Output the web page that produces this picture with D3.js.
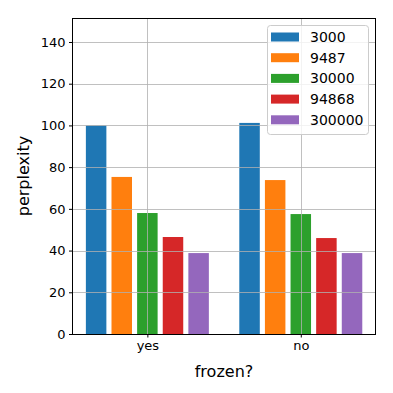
<!DOCTYPE html>
<html>
<head>
<meta charset="utf-8">
<script src="https://cdn.jsdelivr.net/npm/d3@7"></script>
<style>
  body { margin: 0; background: white; }
  text { font-family: "DejaVu Sans", sans-serif; }
</style>
</head>
<body>
<div id="chart"></div>
<script>
let w = 393;
let h = 393;

// data
let groups = ["yes", "no"];
let sizes = ["3000", "9487", "30000", "94868", "300000"];
let colors = ["#1f77b4", "#ff7f0e", "#2ca02c", "#d62728", "#9467bd"];
let yesValues = [100.0, 75.3, 58.0, 46.5, 38.8];
let noValues = [101.2, 73.8, 57.5, 46.0, 38.8];
let yTicks = [0, 20, 40, 60, 80, 100, 120, 140];

let pLeft = 72.5, pRight = 375.5, pTop = 18, pBottom = 334;

let svg = d3.select("#chart").append("svg")
  .attr("width", w)
  .attr("height", h);

// x: categories at 0 and 1
let xScale = d3.scaleLinear().domain([-0.488, 1.487]).range([pLeft, pRight]);
let yScale = d3.scaleLinear().domain([0, 151.5]).range([pBottom, pTop]);

let rows = [];
groups.forEach(function(g, gi){
  let vals = gi == 0 ? yesValues : noValues;
  sizes.forEach(function(s, si){
    rows.push({group: gi, series: si, value: vals[si]});
  });
});

let slot = 0.167;
let barW = 0.1336;

svg.selectAll(".bar").data(rows).enter()
  .append("rect")
  .attr("class", "bar")
  .attr("x", function(d){
    let c = d.group + slot * (d.series - 2) - barW / 2;
    return xScale(c);
  })
  .attr("width", function(d){ return xScale(barW) - xScale(0); })
  .attr("y", function(d){ return yScale(d.value); })
  .attr("height", function(d){ return pBottom - yScale(d.value); })
  .attr("fill", function(d){ return colors[d.series]; });

// grid (on top of bars, like matplotlib)
svg.selectAll(".hgrid").data(yTicks).enter()
  .append("line")
  .attr("x1", pLeft).attr("x2", pRight)
  .attr("y1", function(d){ return Math.round(yScale(d)) + 0.5; })
  .attr("y2", function(d){ return Math.round(yScale(d)) + 0.5; })
  .attr("stroke", "#b0b0b0").attr("stroke-width", 0.8);

svg.selectAll(".vgrid").data([0, 1]).enter()
  .append("line")
  .attr("y1", pTop).attr("y2", pBottom)
  .attr("x1", function(d){ return Math.round(xScale(d)) + 0.5; })
  .attr("x2", function(d){ return Math.round(xScale(d)) + 0.5; })
  .attr("stroke", "#b0b0b0").attr("stroke-width", 0.8);

// axes
let yAxis = d3.axisLeft(yScale).tickValues(yTicks).tickSize(3.5).tickPadding(3.5);
let gy = svg.append("g").attr("transform", "translate(" + pLeft + ",0)").call(yAxis);
gy.select(".domain").remove();
gy.selectAll("text").style("font-size", "13px").attr("fill", "black");

let xAxis = d3.axisBottom(xScale).tickValues([0, 1])
  .tickFormat(function(d){ return groups[d]; })
  .tickSize(3.5).tickPadding(3.5);
let gx = svg.append("g").attr("transform", "translate(0," + pBottom + ")").call(xAxis);
gx.select(".domain").remove();
gx.selectAll("text").style("font-size", "13px").attr("fill", "black");

svg.append("rect")
  .attr("x", pLeft).attr("y", pTop + 0.5)
  .attr("width", pRight - pLeft).attr("height", pBottom - pTop)
  .attr("fill", "none").attr("stroke", "black").attr("stroke-width", 1);

// labels
svg.append("text")
  .attr("x", (pLeft + pRight) / 2).attr("y", 377)
  .attr("text-anchor", "middle")
  .style("font-size", "16px")
  .text("frozen?");

svg.append("text")
  .attr("transform", "translate(29," + ((pTop + pBottom) / 2) + ") rotate(-90)")
  .attr("text-anchor", "middle")
  .style("font-size", "16px")
  .text("perplexity");

// legend
let legend = svg.append("g").attr("transform", "translate(267.5,25.5)");
legend.append("rect")
  .attr("width", 101).attr("height", 109)
  .attr("rx", 3)
  .attr("fill", "white").attr("fill-opacity", 0.8)
  .attr("stroke", "#cccccc").attr("stroke-width", 1);

let items = legend.selectAll(".item").data(sizes).enter()
  .append("g")
  .attr("transform", function(d, i){ return "translate(0," + (12 + i * 20.7) + ")"; });
items.append("rect")
  .attr("x", 3.5).attr("y", -5)
  .attr("width", 28).attr("height", 9)
  .attr("fill", function(d, i){ return colors[i]; });
items.append("text")
  .attr("x", 42.5).attr("y", 4.5)
  .style("font-size", "14px")
  .text(function(d){ return d; });
</script>
</body>
</html>
